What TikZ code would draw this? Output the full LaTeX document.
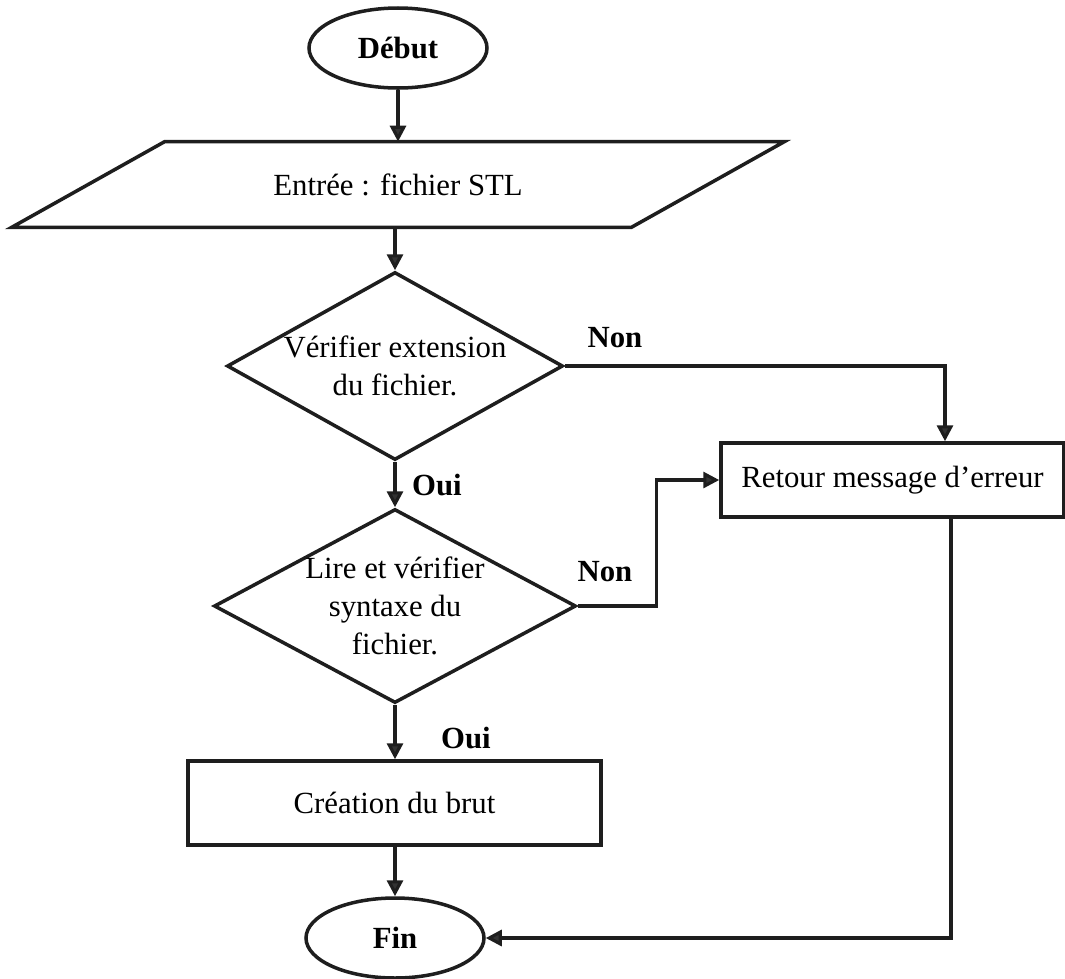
\documentclass[tikz,border=0pt]{standalone}
\usepackage{fontspec}
\setmainfont{Liberation Serif}
\usetikzlibrary{shapes.geometric, arrows.meta, positioning}
\definecolor{lineblack}{HTML}{1E1E1E}
\definecolor{arrowgray}{HTML}{333333}

\begin{document}
\begin{tikzpicture}[
    every node/.style={font=\fontsize{17.5}{21.5}\selectfont},
    terminal/.style={ellipse, draw=lineblack, line width=2pt, minimum width=3.56cm, minimum height=1.6cm, font=\fontsize{17.5}{21.5}\selectfont\bfseries},
    inputbox/.style={rectangle, minimum width=12.38cm, minimum height=1.7cm, inner sep=0pt},
    decision/.style={diamond, draw=lineblack, line width=2pt, inner sep=-6mm, align=center},
    process/.style={rectangle, draw=lineblack, line width=2pt, align=center},
    answer/.style={font=\fontsize{17.5}{21.5}\selectfont\bfseries},
    flow/.style={draw=lineblack, line width=1.8pt, -{Triangle[length=0.32cm, width=0.32cm, fill=arrowgray]}}
]
\useasboundingbox (0,0) rectangle (21.3,-19.56);

% Start
\node[terminal] (debut) at (7.96, -0.96) {Début};

% Input
\node[inputbox] (input) at (7.96, -3.69) {\raisebox{-0.12cm}{Entrée : fichier STL}};
\draw[lineblack, line width=2pt] ([xshift=1.53cm]input.north west) -- ([xshift=1.53cm]input.north east)
    -- ([xshift=-1.53cm]input.south east) -- ([xshift=-1.53cm]input.south west) -- cycle;

% Checks
\node[decision, minimum width=6.72cm, minimum height=3.76cm] (ext) at (7.9, -7.32)
    {Vérifier extension\\du fichier.};
\node[decision, minimum width=7.24cm, minimum height=3.88cm] (syntax) at (7.9, -12.12)
    {Lire et vérifier\\syntaxe du\\fichier.};

% Error box
\node[process, minimum width=6.86cm, minimum height=1.48cm] (error) at (17.85, -9.6)
    {Retour message d’erreur};

% Creation box
\node[process, minimum width=8.26cm, minimum height=1.68cm] (create) at (7.89, -16.06)
    {Création du brut};

% End
\node[terminal] (fin) at (7.9, -18.76) {Fin};

% Labels
\node[answer] (non1) at (12.3, -6.76) {Non};
\node[answer] (oui1) at (8.74, -9.7) {Oui};
\node[answer] (non2) at (12.1, -11.44) {Non};
\node[answer] (oui2) at (9.32, -14.76) {Oui};

% Main flow
\draw[flow] (debut.south) -- (input.north);
\draw[flow] (input.south -| ext.north) -- (ext.north);
\draw[flow] (ext.south) -- (syntax.north);
\draw[flow] (syntax.south) -- (create.north -| syntax.south);
\draw[flow] (create.south -| fin.north) -- (fin.north);

% Error branches
\draw[flow] (ext.east) -| ([xshift=1.05cm]error.north);
\draw[flow] (syntax.east) -- ++(1.58cm, 0) |- (error.west);
\draw[flow] ([xshift=1.17cm]error.south) |- (fin.east);

\end{tikzpicture}
\end{document}
